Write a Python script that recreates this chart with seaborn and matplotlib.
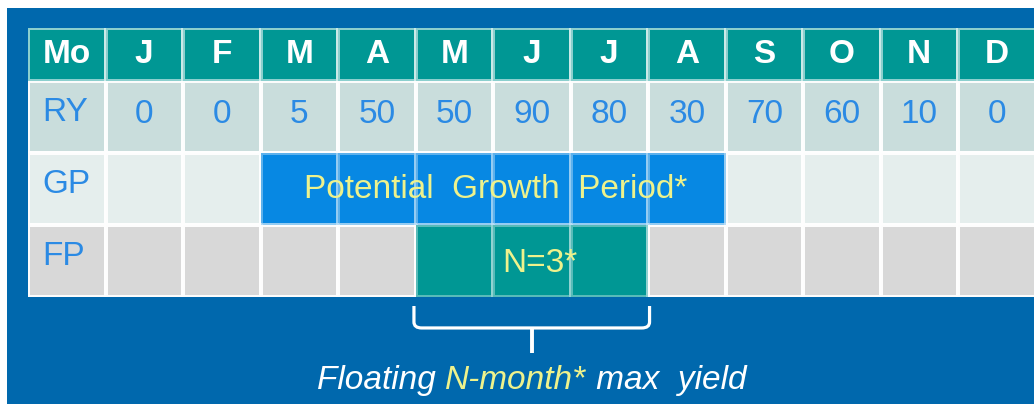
import numpy as np
import pandas as pd
import matplotlib
matplotlib.use("Agg")
import matplotlib.pyplot as plt
import seaborn as sns
from matplotlib.colors import ListedColormap
from matplotlib.path import Path
from matplotlib.patches import PathPatch, Rectangle

# ---------------- data ----------------
months = ["J", "F", "M", "A", "M", "J", "J", "A", "S", "O", "N", "D"]
ry_values = [0, 0, 5, 50, 50, 90, 80, 30, 70, 60, 10, 0]
header_label = "Mo"
row_labels = ["RY", "GP", "FP"]
growth_period = (2, 8)     # month index start, end (exclusive): M .. A
floating_period = (4, 7)   # month index start, end (exclusive): M .. J  (N = 3)
growth_text = "Potential  Growth  Period*"
floating_text = "N=3*"
caption_parts = ["Floating ", "N-month*", " max  yield"]

# ---------------- style ----------------
BG = "#0068AD"
TEAL = "#009794"
RY_BG = "#C9DDDC"
GP_BG = "#E5EEED"
FP_BG = "#D8D8D8"
BAND_BLUE = "#0788E3"
LABEL_BLUE = "#2B8AE4"
YELLOW = "#EEF28C"

sns.set_theme(style="white")
plt.rcParams["font.family"] = ["Liberation Sans", "DejaVu Sans"]

W, H = 1034, 404
fig = plt.figure(figsize=(W / 100, H / 100), dpi=100)
fig.patch.set_facecolor("white")
fig.patches.append(Rectangle((7 / W, 0), 1, (H - 8) / H, transform=fig.transFigure,
                             facecolor=BG, edgecolor="none", zorder=-10))

ncol = len(months) + 1
left, colw = 28, 77.5
ax_h = fig.add_axes([left / W, 1 - 81 / H, ncol * colw / W, 53 / H])
ax_b = fig.add_axes([left / W, 1 - 297 / H, ncol * colw / W, 216 / H])

# ---------------- header row ----------------
hdr = pd.DataFrame([np.zeros(ncol)], columns=[header_label] + months)
sns.heatmap(hdr, ax=ax_h, cmap=ListedColormap([TEAL]), cbar=False,
            annot=np.array([[header_label] + months]), fmt="",
            annot_kws=dict(color="white", fontsize=24, fontweight="bold"),
            linewidths=1.5, linecolor=(1, 1, 1, 0.55))
ax_h.set_xticks([]); ax_h.set_yticks([])
ax_h.set_xlabel(""); ax_h.set_ylabel("")

# ---------------- body rows ----------------
nrow = len(row_labels)
base = np.array([[r] * ncol for r in range(nrow)], dtype=float)
sns.heatmap(base, ax=ax_b, cmap=ListedColormap([RY_BG, GP_BG, FP_BG]),
            vmin=-0.5, vmax=2.5, cbar=False,
            linewidths=1.5, linecolor=(1, 1, 1, 0.9))

band = np.full((nrow, ncol), np.nan)
band[1, growth_period[0] + 1:growth_period[1] + 1] = 0
band[2, floating_period[0] + 1:floating_period[1] + 1] = 1
sns.heatmap(band, ax=ax_b, cmap=ListedColormap([BAND_BLUE, TEAL]),
            vmin=-0.5, vmax=1.5, cbar=False, mask=np.isnan(band),
            linewidths=1.5, linecolor=(1, 1, 1, 0.35))
ax_b.set_xticks([]); ax_b.set_yticks([])

for r, lab in enumerate(row_labels):
    ax_b.text(0.19, r + 0.44, lab, ha="left", va="center", color=LABEL_BLUE, fontsize=24)
for i, v in enumerate(ry_values):
    ax_b.text(i + 1.5, 0.46, str(v), ha="center", va="center", color=LABEL_BLUE, fontsize=24)

gx = (growth_period[0] + growth_period[1]) / 2 + 1
ax_b.text(gx + 0.03, 1.5, growth_text, ha="center", va="center", color=YELLOW, fontsize=24)
fx = (floating_period[0] + floating_period[1]) / 2 + 1
ax_b.text(fx + 0.1, 2.53, floating_text, ha="center", va="center", color=YELLOW, fontsize=24)

# ---------------- brace ----------------
x0 = floating_period[0] + 1
x1 = floating_period[1] + 1
xm = (x0 + x1) / 2
yt, yh, ytip = 3.125, 3.43, 3.78
rx, ry = 0.08, 0.083
verts = [(x0 - 0.02, yt), (x0 - 0.02, yh - ry), (x0 - 0.02, yh), (x0 + rx, yh),
         (x1 - rx, yh), (x1 + 0.02, yh), (x1 + 0.02, yh - ry), (x1 + 0.02, yt)]
codes = [Path.MOVETO, Path.LINETO, Path.CURVE3, Path.CURVE3,
         Path.LINETO, Path.CURVE3, Path.CURVE3, Path.LINETO]
ax_b.add_patch(PathPatch(Path(verts, codes), facecolor="none", edgecolor="white",
                         lw=2.3, clip_on=False, capstyle="butt"))
ax_b.plot([xm, xm], [yh, ytip], color="white", lw=2.8, clip_on=False,
          solid_capstyle="butt")

# ---------------- caption ----------------
cy = 4.16
t1 = ax_b.text(xm, cy, caption_parts[0], ha="left", va="center", color="white",
               fontsize=24, fontstyle="italic", clip_on=False)
t2 = ax_b.annotate(caption_parts[1], xy=(1, 0), xycoords=t1, ha="left", va="bottom",
                   color=YELLOW, fontsize=24, fontstyle="italic", annotation_clip=False)
t3 = ax_b.annotate(caption_parts[2], xy=(1, 0), xycoords=t2, ha="left", va="bottom",
                   color="white", fontsize=24, fontstyle="italic", annotation_clip=False)
fig.canvas.draw()
r = fig.canvas.get_renderer()
b1 = t1.get_window_extent(r)
b3 = t3.get_window_extent(r)
total_w = b3.x1 - b1.x0
cx_pix = ax_b.transData.transform((xm, cy))[0]
new_left = cx_pix - total_w / 2
new_x = ax_b.transData.inverted().transform((new_left, 0))[0]
t1.set_x(new_x)

fig.savefig("out.png", dpi=100)
